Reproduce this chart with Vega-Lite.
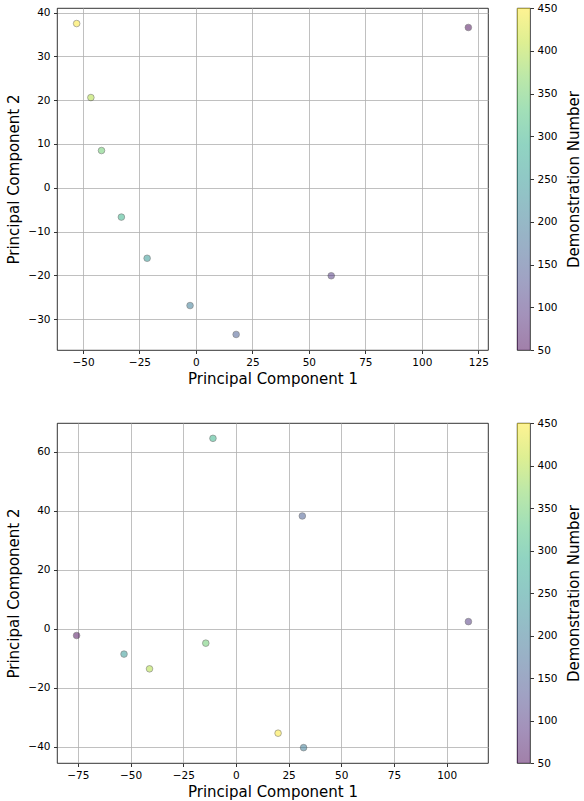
{
  "$schema": "https://vega.github.io/schema/vega-lite/v6.json",
  "padding": {"left": 6, "top": 2, "right": 0, "bottom": 0},
  "background": "white",
  "config": {
    "font": "DejaVu Sans",
    "view": {"stroke": "#000", "strokeWidth": 0.8},
    "axis": {
      "labelFontSize": 10.5, "titleFontSize": 15, "titleFontWeight": "normal",
      "labelColor": "#000", "titleColor": "#000", "tickColor": "#000",
      "tickSize": 3.5, "tickWidth": 0.8, "labelPadding": 3.5, "domain": false,
      "gridColor": "#b0b0b0", "gridWidth": 0.8, "labelFlush": false, "labelOverlap": false
    }
  },
  "datasets": {
    "top": [
      {"pc1": -52.8, "pc2": 37.5, "demo": 450},
      {"pc1": -46.5, "pc2": 20.6, "demo": 400},
      {"pc1": -41.8, "pc2": 8.5, "demo": 350},
      {"pc1": -33.0, "pc2": -6.7, "demo": 300},
      {"pc1": -21.6, "pc2": -16.1, "demo": 250},
      {"pc1": -2.6, "pc2": -26.9, "demo": 200},
      {"pc1": 17.8, "pc2": -33.5, "demo": 150},
      {"pc1": 59.9, "pc2": -20.1, "demo": 100},
      {"pc1": 120.6, "pc2": 36.6, "demo": 50}
    ],
    "bottom": [
      {"pc1": -75.6, "pc2": -2.3, "demo": 50},
      {"pc1": 110.3, "pc2": 2.4, "demo": 100},
      {"pc1": 31.5, "pc2": 38.2, "demo": 150},
      {"pc1": 32.1, "pc2": -40.3, "demo": 200},
      {"pc1": -53.1, "pc2": -8.6, "demo": 250},
      {"pc1": -10.9, "pc2": 64.5, "demo": 300},
      {"pc1": -14.3, "pc2": -4.9, "demo": 350},
      {"pc1": -41.0, "pc2": -13.6, "demo": 400},
      {"pc1": 20.0, "pc2": -35.4, "demo": 450}
    ],
    "bar": [
      {"lo": 50, "hi": 450}
    ]
  },
  "spacing": 30,
  "resolve": {"scale": {"x": "independent", "y": "independent", "color": "independent"}},
  "vconcat": [
    {
      "spacing": 27,
      "resolve": {"scale": {"x": "independent", "y": "independent"}},
      "hconcat": [
        {
          "width": 431, "height": 342,
          "data": {"name": "top"},
          "mark": {"type": "circle", "size": 44, "opacity": 0.5, "stroke": "#000", "strokeWidth": 0.6},
          "encoding": {
            "x": {"field": "pc1", "type": "quantitative",
                  "scale": {"domain": [-61.5, 129.3], "nice": false, "zero": false},
                  "axis": {"title": "Principal Component 1", "values": [-50, -25, 0, 25, 50, 75, 100, 125], "titlePadding": 4}},
            "y": {"field": "pc2", "type": "quantitative",
                  "scale": {"domain": [-37.05, 41.05], "nice": false, "zero": false},
                  "axis": {"title": "Principal Component 2", "values": [-30, -20, -10, 0, 10, 20, 30, 40], "titlePadding": 6}},
            "color": {"field": "demo", "type": "quantitative",
                      "scale": {"scheme": "viridis", "domain": [50, 450]}, "legend": null}
          }
        },
        {
          "width": 13, "height": 342,
          "data": {"name": "bar"},
          "mark": {"type": "rect", "opacity": 0.5,
                   "color": {"gradient": "linear", "x1": 0, "y1": 1, "x2": 0, "y2": 0,
                             "stops": [
                               {"offset": 0.0, "color": "#440154"},
                               {"offset": 0.1, "color": "#482475"},
                               {"offset": 0.2, "color": "#414487"},
                               {"offset": 0.3, "color": "#355f8d"},
                               {"offset": 0.4, "color": "#2a788e"},
                               {"offset": 0.5, "color": "#21918c"},
                               {"offset": 0.6, "color": "#22a884"},
                               {"offset": 0.7, "color": "#44bf70"},
                               {"offset": 0.8, "color": "#7ad151"},
                               {"offset": 0.9, "color": "#bddf26"},
                               {"offset": 1.0, "color": "#fde725"}
                             ]}},
          "encoding": {
            "x": {"value": 0},
            "x2": {"value": "width"},
            "y": {"field": "lo", "type": "quantitative",
                  "scale": {"domain": [50, 450], "nice": false, "zero": false},
                  "axis": {"orient": "right", "title": "Demonstration Number", "titleAngle": 270,
                           "values": [50, 100, 150, 200, 250, 300, 350, 400, 450], "grid": false, "titlePadding": 24}},
            "y2": {"field": "hi"}
          }
        }
      ]
    },
    {
      "spacing": 27,
      "resolve": {"scale": {"x": "independent", "y": "independent"}},
      "hconcat": [
        {
          "width": 431, "height": 340,
          "data": {"name": "bottom"},
          "mark": {"type": "circle", "size": 44, "opacity": 0.5, "stroke": "#000", "strokeWidth": 0.6},
          "encoding": {
            "x": {"field": "pc1", "type": "quantitative",
                  "scale": {"domain": [-84.9, 119.6], "nice": false, "zero": false},
                  "axis": {"title": "Principal Component 1", "values": [-75, -50, -25, 0, 25, 50, 75, 100], "titlePadding": 4}},
            "y": {"field": "pc2", "type": "quantitative",
                  "scale": {"domain": [-45.5, 69.7], "nice": false, "zero": false},
                  "axis": {"title": "Principal Component 2", "values": [-40, -20, 0, 20, 40, 60], "titlePadding": 6}},
            "color": {"field": "demo", "type": "quantitative",
                      "scale": {"scheme": "viridis", "domain": [50, 450]}, "legend": null}
          }
        },
        {
          "width": 13, "height": 340,
          "data": {"name": "bar"},
          "mark": {"type": "rect", "opacity": 0.5,
                   "color": {"gradient": "linear", "x1": 0, "y1": 1, "x2": 0, "y2": 0,
                             "stops": [
                               {"offset": 0.0, "color": "#440154"},
                               {"offset": 0.1, "color": "#482475"},
                               {"offset": 0.2, "color": "#414487"},
                               {"offset": 0.3, "color": "#355f8d"},
                               {"offset": 0.4, "color": "#2a788e"},
                               {"offset": 0.5, "color": "#21918c"},
                               {"offset": 0.6, "color": "#22a884"},
                               {"offset": 0.7, "color": "#44bf70"},
                               {"offset": 0.8, "color": "#7ad151"},
                               {"offset": 0.9, "color": "#bddf26"},
                               {"offset": 1.0, "color": "#fde725"}
                             ]}},
          "encoding": {
            "x": {"value": 0},
            "x2": {"value": "width"},
            "y": {"field": "lo", "type": "quantitative",
                  "scale": {"domain": [50, 450], "nice": false, "zero": false},
                  "axis": {"orient": "right", "title": "Demonstration Number", "titleAngle": 270,
                           "values": [50, 100, 150, 200, 250, 300, 350, 400, 450], "grid": false, "titlePadding": 24}},
            "y2": {"field": "hi"}
          }
        }
      ]
    }
  ]
}
